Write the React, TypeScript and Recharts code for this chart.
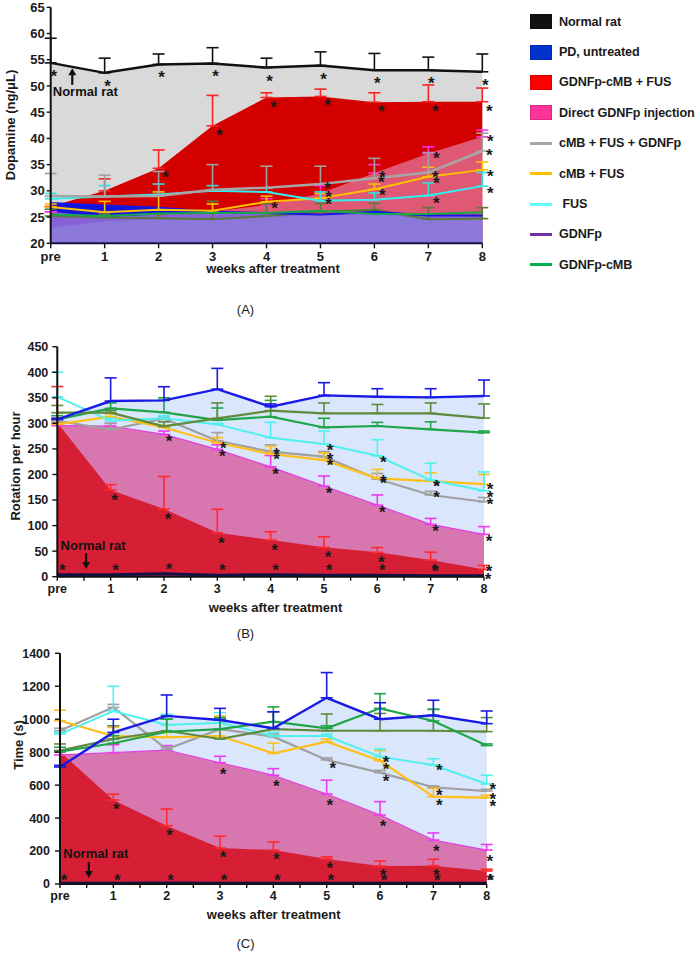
import React from "react";
import {
  Area,
  ComposedChart,
  ErrorBar,
  Line,
  ReferenceLine,
  XAxis,
  YAxis,
} from "recharts";

const WEEKS = ["pre", "1", "2", "3", "4", "5", "6", "7", "8"];
const WEEK_TICKS = [0, 1, 2, 3, 4, 5, 6, 7, 8];
const HALF_WEEK_TICKS = [0, 0.5, 1, 1.5, 2, 2.5, 3, 3.5, 4, 4.5, 5, 5.5, 6, 6.5, 7, 7.5, 8];

// (A) dopamine, ng/μL — means and error-bar tops
const A_Y_TICKS = [20, 25, 30, 35, 40, 45, 50, 55, 60, 65];
const A_NORMAL = [54.4, 52.5, 54.1, 54.3, 53.5, 53.9, 53.0, 53.0, 52.7];
const A_NORMAL_TOP = [59.1, 55.3, 56.1, 57.3, 55.3, 56.5, 56.2, 55.5, 56.1];
const A_RED = [27.0, 30.0, 34.3, 42.4, 47.8, 48.0, 46.9, 47.0, 47.0];
const A_RED_TOP = [27.0, 32.3, 37.8, 48.2, 48.7, 49.4, 48.7, 50.2, 49.6];
const A_PINK = [26.0, 25.0, 25.5, 26.0, 27.3, 29.5, 33.4, 37.1, 40.3];
const A_PINK_TOP = [26.0, 25.0, 25.5, 26.0, 28.5, 31.0, 35.0, 38.4, 41.6];
const A_GREY = [29.0, 28.9, 29.0, 30.2, 30.6, 31.3, 32.4, 33.5, 37.6];
const A_GREY_TOP = [33.3, 33.0, 33.7, 35.0, 34.7, 34.7, 36.2, 37.3, 41.0];
const A_YELLOW = [26.9, 25.9, 26.4, 26.2, 27.9, 28.6, 30.3, 32.7, 34.0];
const A_YELLOW_TOP = [27.5, 28.0, 29.8, 27.5, 29.0, 29.5, 31.3, 34.5, 35.5];
const A_CYAN = [28.5, 28.9, 29.3, 30.0, 29.8, 28.1, 28.3, 29.1, 30.9];
const A_CYAN_TOP = [29.5, 31.0, 31.3, 31.0, 30.5, 29.8, 29.6, 31.5, 33.5];
const A_BLUE = [27.7, 27.2, 26.8, 26.0, 25.8, 25.5, 26.0, 25.3, 25.3];
const A_GREEN = [25.5, 25.2, 25.7, 25.8, 25.8, 26.2, 25.6, 25.6, 25.9];
const A_OLIVE = [25.2, 24.9, 24.8, 24.6, 25.2, 26.0, 26.4, 24.6, 24.7];
const A_OLIVE_TOP = [26.5, 25.5, 25.5, 28.0, 27.5, 27.6, 27.6, 26.8, 26.8];
const A_BAND = [23.0, 24.2, 24.6, 24.6, 25.0, 25.3, 25.5, 24.8, 24.8];

const A_NORMAL_STARS = [1, 1, 1, 1, 1, 1, 1, 1, 1];
const A_RED_STARS = [0, 0, 1, 1, 1, 1, 1, 1, 1];
const A_PINK_STARS = [0, 0, 0, 0, 0, 1, 1, 1, 1];
const A_GREY_STARS = [0, 0, 0, 0, 0, 1, 1, 1, 1];
const A_YELLOW_STARS = [0, 0, 0, 0, 1, 1, 1, 1, 1];
const A_CYAN_STARS = [0, 0, 0, 0, 0, 0, 0, 1, 1];

// (B) rotation per hour
const B_Y_TICKS = [0, 50, 100, 150, 200, 250, 300, 350, 400, 450];
const B_NORMAL = [4, 4, 6, 3, 4, 3, 3, 2, 2];
const B_BLUE = [307.8, 343.7, 345, 367, 332.6, 354.8, 352.2, 350.9, 353.5];
const B_BLUE_TOP = [310, 389, 371.7, 407.6, 338, 379.6, 367.8, 367.8, 384.8];
const B_OLIVE = [320.9, 320.9, 294, 309.8, 324.8, 319.6, 319.6, 319.6, 310.4];
const B_OLIVE_TOP = [335, 325, 303, 340, 353, 340, 337, 340, 338];
const B_GREEN = [307.8, 329.3, 321.5, 306.5, 313, 292, 294.8, 288.3, 281.7];
const B_GREEN_TOP = [315, 340, 350, 330, 345, 310, 302, 303, 285];
const B_CYAN = [352, 305, 310, 298, 272, 259.6, 236.7, 189, 168];
const B_CYAN_TOP = [400, 310, 315, 300, 302, 285, 268, 222, 205];
const B_YELLOW = [298, 313, 292, 262, 240, 228, 192.4, 187, 181];
const B_YELLOW_TOP = [300, 318, 296, 272, 255, 242, 210, 203, 200];
const B_GREY = [305, 288, 309, 266, 244.6, 234.8, 191, 159.8, 146.7];
const B_GREY_TOP = [310, 300, 312, 282, 258, 245, 202, 167, 155];
const B_PINK = [295.4, 294.8, 278.5, 249, 215, 177.4, 140, 102.4, 82.8];
const B_PINK_TOP = [300, 300, 285, 258, 237, 197, 160, 114, 98];
const B_RED = [301, 169.6, 132.4, 86, 71.7, 57.4, 47.6, 32.6, 14.3];
const B_RED_TOP = [372, 180, 196, 132, 88, 78, 57, 48, 22];

const B_NORMAL_STARS = [1, 1, 1, 1, 1, 1, 1, 1, 1];
const B_RED_STARS = [0, 1, 1, 1, 1, 1, 1, 1, 1];
const B_PINK_STARS = [0, 0, 1, 1, 1, 1, 1, 1, 1];
const B_YELLOW_STARS = [0, 0, 0, 1, 1, 1, 1, 1, 1];
const B_GREY_STARS = [0, 0, 0, 0, 1, 1, 1, 1, 1];
const B_CYAN_STARS = [0, 0, 0, 0, 0, 1, 1, 1, 1];

// (C) time, s
const C_Y_TICKS = [0, 200, 400, 600, 800, 1000, 1200, 1400];
const C_NORMAL = [4, 4, 6, 4, 4, 4, 4, 4, 4];
const C_BLUE = [710, 920, 1020, 995, 945, 1130, 1000, 1024, 973];
const C_BLUE_TOP = [720, 1000, 1147, 1066, 1045, 1283, 1100, 1115, 1050];
const C_OLIVE = [809, 880, 930, 880, 940, 930, 930, 930, 925];
const C_OLIVE_TOP = [850, 960, 1000, 1000, 1045, 1032, 1035, 1060, 1010];
const C_GREEN = [803, 854, 924, 940, 985, 945, 1066, 989, 840];
const C_GREEN_TOP = [830, 900, 1000, 1010, 1075, 960, 1155, 1060, 850];
const C_CYAN = [910, 1050, 965, 979, 898, 898, 773, 722, 607];
const C_CYAN_TOP = [920, 1200, 1030, 1040, 920, 910, 820, 760, 660];
const C_YELLOW = [991, 898, 890, 898, 793, 864, 748, 530, 524];
const C_YELLOW_TOP = [1055, 950, 920, 1020, 855, 880, 810, 580, 540];
const C_GREY = [930, 1072, 817, 940, 894, 753, 676, 587, 564];
const C_GREY_TOP = [945, 1090, 830, 1000, 910, 765, 690, 595, 575];
const C_PINK = [783, 797, 813, 736, 660, 546, 419, 267, 206];
const C_PINK_TOP = [800, 845, 840, 775, 700, 630, 500, 310, 240];
const C_RED = [803, 510, 354, 218, 206, 152, 109, 111, 79];
const C_RED_TOP = [810, 545, 455, 290, 255, 165, 140, 150, 90];

const C_NORMAL_STARS = [1, 1, 1, 1, 1, 1, 1, 1, 1];
const C_RED_STARS = [0, 1, 1, 1, 1, 1, 1, 1, 1];
const C_PINK_STARS = [0, 0, 0, 1, 1, 1, 1, 1, 1];
const C_GREY_STARS = [0, 0, 0, 0, 0, 1, 1, 1, 1];
const C_YELLOW_STARS = [0, 0, 0, 0, 0, 0, 1, 1, 1];
const C_CYAN_STARS = [0, 0, 0, 0, 0, 0, 1, 1, 1];

// "Normal rat" arrow annotations: [week, tail value, head value]
const A_NOTE = [0.4, 50.2, 53.4];
const B_NOTE = [0.54, 46, 15];
const C_NOTE = [0.54, 134, 36];

const LEGEND = [
  { name: "Normal rat", color: "#111111", kind: "box" },
  { name: "PD, untreated", color: "#0033cc", kind: "box" },
  { name: "GDNFp-cMB + FUS", color: "#ff0000", kind: "box" },
  { name: "Direct GDNFp injection", color: "#ff3399", kind: "box" },
  { name: "cMB + FUS + GDNFp", color: "#a6a6a6", kind: "line" },
  { name: "cMB + FUS", color: "#ffc000", kind: "line" },
  { name: " FUS", color: "#66ffff", kind: "line" },
  { name: "GDNFp", color: "#7030a0", kind: "line" },
  { name: "GDNFp-cMB", color: "#00b050", kind: "line" },
];

type Src = { key: string; values: number[]; tops?: number[]; stars?: number[] };

function buildRows(series: Src[]) {
  return WEEKS.map((_, i) => {
    const row: Record<string, unknown> = { x: i };
    for (const s of series) {
      row[s.key] = s.values[i];
      if (s.tops) row[s.key + "Err"] = [0, Math.max(0, s.tops[i] - s.values[i])];
      if (s.stars) row[s.key + "Star"] = s.stars[i];
    }
    return row;
  });
}

const rowsA = buildRows([
  { key: "normal", values: A_NORMAL, tops: A_NORMAL_TOP, stars: A_NORMAL_STARS },
  { key: "red", values: A_RED, tops: A_RED_TOP, stars: A_RED_STARS },
  { key: "pink", values: A_PINK, tops: A_PINK_TOP, stars: A_PINK_STARS },
  { key: "grey", values: A_GREY, tops: A_GREY_TOP, stars: A_GREY_STARS },
  { key: "yellow", values: A_YELLOW, tops: A_YELLOW_TOP, stars: A_YELLOW_STARS },
  { key: "cyan", values: A_CYAN, tops: A_CYAN_TOP, stars: A_CYAN_STARS },
  { key: "blue", values: A_BLUE },
  { key: "green", values: A_GREEN },
  { key: "olive", values: A_OLIVE, tops: A_OLIVE_TOP },
  { key: "band", values: A_BAND },
]);

const rowsB = buildRows([
  { key: "normal", values: B_NORMAL, stars: B_NORMAL_STARS },
  { key: "blue", values: B_BLUE, tops: B_BLUE_TOP },
  { key: "olive", values: B_OLIVE, tops: B_OLIVE_TOP },
  { key: "green", values: B_GREEN, tops: B_GREEN_TOP },
  { key: "cyan", values: B_CYAN, tops: B_CYAN_TOP, stars: B_CYAN_STARS },
  { key: "yellow", values: B_YELLOW, tops: B_YELLOW_TOP, stars: B_YELLOW_STARS },
  { key: "grey", values: B_GREY, tops: B_GREY_TOP, stars: B_GREY_STARS },
  { key: "pink", values: B_PINK, tops: B_PINK_TOP, stars: B_PINK_STARS },
  { key: "red", values: B_RED, tops: B_RED_TOP, stars: B_RED_STARS },
]);

const rowsC = buildRows([
  { key: "normal", values: C_NORMAL, stars: C_NORMAL_STARS },
  { key: "blue", values: C_BLUE, tops: C_BLUE_TOP },
  { key: "olive", values: C_OLIVE, tops: C_OLIVE_TOP },
  { key: "green", values: C_GREEN, tops: C_GREEN_TOP },
  { key: "cyan", values: C_CYAN, tops: C_CYAN_TOP, stars: C_CYAN_STARS },
  { key: "yellow", values: C_YELLOW, tops: C_YELLOW_TOP, stars: C_YELLOW_STARS },
  { key: "grey", values: C_GREY, tops: C_GREY_TOP, stars: C_GREY_STARS },
  { key: "pink", values: C_PINK, tops: C_PINK_TOP, stars: C_PINK_STARS },
  { key: "red", values: C_RED, tops: C_RED_TOP, stars: C_RED_STARS },
]);

const FONT = "'Liberation Sans', Arial, Helvetica, sans-serif";

const weekLabel = (v: number) => (Number.isInteger(v) ? WEEKS[v] : "");

// asterisk drawn next to a point when the row flags it
function starDot(key: string, dx: number, dy: number) {
  return (p: any) => {
    const k = `${key}-star-${p.index}`;
    if (!p.payload || !p.payload[key + "Star"] || p.cx == null) return <g key={k} />;
    return (
      <text
        key={k}
        x={p.cx + dx}
        y={p.cy + dy + 10}
        textAnchor="middle"
        fontSize={17}
        fontWeight={700}
        fill="#1a1a1a"
        fontFamily={FONT}
      >
        *
      </text>
    );
  };
}

function areaEl(key: string, fill: string, opacity: number, stroke = "none") {
  return (
    <Area
      key={"area-" + key}
      type="linear"
      dataKey={key}
      fill={fill}
      fillOpacity={opacity}
      stroke={stroke}
      strokeWidth={1.2}
      baseValue="dataMin"
      dot={false}
      activeDot={false}
      isAnimationActive={false}
    />
  );
}

function lineEl(
  key: string,
  color: string,
  width: number,
  err?: string,
  star?: [number, number],
) {
  return (
    <Line
      key={"line-" + key}
      type="linear"
      dataKey={key}
      stroke={color}
      strokeWidth={width}
      dot={star ? starDot(key, star[0], star[1]) : false}
      activeDot={false}
      isAnimationActive={false}
    >
      {err ? (
        <ErrorBar dataKey={key + "Err"} direction="y" width={6} stroke={err} strokeWidth={1.6} />
      ) : null}
    </Line>
  );
}

function arrowNote(dx: number, gap: number) {
  return (p: any) => {
    const { x1, y1, x2, y2 } = p;
    const dir = y2 < y1 ? -1 : 1;
    return (
      <g>
        <line x1={x1} y1={y1} x2={x2} y2={y2 - dir * 6} stroke="#111" strokeWidth={2.2} />
        <polygon
          points={`${x2},${y2} ${x2 - 4},${y2 - dir * 7} ${x2 + 4},${y2 - dir * 7}`}
          fill="#111"
        />
        <text
          x={x1 + dx}
          y={y1 - dir * gap}
          textAnchor="middle"
          dominantBaseline="central"
          fontSize={13}
          fontWeight={700}
          fill="#111"
          fontFamily={FONT}
        >
          Normal rat
        </text>
      </g>
    );
  };
}

function Txt({
  x,
  y,
  children,
  rotate = false,
  bold = true,
  size = 13,
}: {
  x: number;
  y: number;
  children: React.ReactNode;
  rotate?: boolean;
  bold?: boolean;
  size?: number;
}) {
  return (
    <div
      style={{
        position: "absolute",
        left: x,
        top: y,
        transform: `translate(-50%, -50%)${rotate ? " rotate(-90deg)" : ""}`,
        whiteSpace: "pre",
        lineHeight: 1,
        fontSize: size,
        fontWeight: bold ? 700 : 400,
        color: "#1a1a1a",
      }}
    >
      {children}
    </div>
  );
}

const axisLine = { stroke: "#111", strokeWidth: 2 };
const tickLine = { stroke: "#111", strokeWidth: 1.4 };

export default function App() {
  return (
    <div
      style={{
        position: "absolute",
        left: 0,
        top: 0,
        width: 700,
        height: 962,
        background: "#fff",
        fontFamily: FONT,
        overflow: "hidden",
      }}
    >
      {/* (A) Dopamine */}
      <div style={{ position: "absolute", left: 0, top: 0 }}>
        <ComposedChart
          width={500}
          height={275}
          data={rowsA}
          margin={{ top: 7.3, right: 17.7, bottom: 0, left: 0 }}
        >
          <XAxis
            type="number"
            dataKey="x"
            domain={[0, 8]}
            ticks={WEEK_TICKS}
            interval={0}
            tickFormatter={weekLabel}
            height={31.7}
            axisLine={{ stroke: "#14144a", strokeWidth: 2 }}
            tickLine={tickLine}
            tickSize={5}
            tickMargin={3}
            tick={{ fill: "#1a1a1a", fontSize: 13, fontWeight: 700 }}
          />
          <YAxis
            type="number"
            domain={[20, 65]}
            ticks={A_Y_TICKS}
            interval={0}
            width={50.7}
            axisLine={axisLine}
            tickLine={tickLine}
            tickSize={4}
            tickMargin={2}
            tick={{ fill: "#1a1a1a", fontSize: 13, fontWeight: 700 }}
          />
          {areaEl("normal", "#d9d9d9", 1)}
          {areaEl("red", "#d40000", 1)}
          {areaEl("blue", "#1414e0", 1)}
          {areaEl("pink", "#e8a0d4", 0.55)}
          {areaEl("band", "#8b78d8", 1)}
          {lineEl("pink", "none", 0, "#ff33dd", [8, 0])}
          {lineEl("red", "none", 0, "#ff2020", [7, 5])}
          {lineEl("olive", "#5a7a3a", 2, "#5a7a3a")}
          {lineEl("blue", "#1515e5", 2)}
          {lineEl("green", "#17a84a", 2)}
          {lineEl("yellow", "#ffc000", 2, "#ffc000", [8, 2])}
          {lineEl("cyan", "#33f0f0", 2, "#33e0e0", [8, 3])}
          {lineEl("grey", "#a6a6a6", 2.5, "#a0a0a0", [7, 0])}
          {lineEl("normal", "#111111", 2.5, "#111111", [3, 9])}
          <ReferenceLine
            segment={[
              { x: A_NOTE[0], y: A_NOTE[1] },
              { x: A_NOTE[0], y: A_NOTE[2] },
            ]}
            ifOverflow="visible"
            shape={arrowNote(13, 7)}
          />
        </ComposedChart>
      </div>
      <Txt x={10} y={125} rotate>
        Dopamine (ng/μL)
      </Txt>
      <Txt x={273} y={268}>
        weeks after treatment
      </Txt>
      <Txt x={245.5} y={309} bold={false}>
        (A)
      </Txt>

      {/* (B) Rotation */}
      <div style={{ position: "absolute", left: 0, top: 330 }}>
        <ComposedChart
          width={500}
          height={285}
          data={rowsB}
          margin={{ top: 16.7, right: 16, bottom: 0, left: 0 }}
        >
          <XAxis
            type="number"
            dataKey="x"
            domain={[0, 8]}
            ticks={HALF_WEEK_TICKS}
            interval={0}
            tickFormatter={weekLabel}
            height={38.3}
            axisLine={axisLine}
            tickLine={tickLine}
            tickSize={4}
            tickMargin={3}
            tick={{ fill: "#1a1a1a", fontSize: 12.5, fontWeight: 700 }}
          />
          <YAxis
            type="number"
            domain={[0, 450]}
            ticks={B_Y_TICKS}
            interval={0}
            width={57.3}
            axisLine={axisLine}
            tickLine={tickLine}
            tickSize={5}
            tickMargin={4}
            tick={{ fill: "#1a1a1a", fontSize: 12.5, fontWeight: 700 }}
          />
          {areaEl("blue", "#d9e6fb", 1)}
          {areaEl("pink", "#d876b0", 1, "#e23fe0")}
          {areaEl("red", "#d61f35", 1)}
          {lineEl("red", "none", 0, "#ff2a2a", [4, 6])}
          {lineEl("pink", "none", 0, "#ee3bee", [5, 3])}
          {lineEl("grey", "#a0a0a0", 2.2, "#a0a0a0", [6, -2])}
          {lineEl("yellow", "#ffbf1a", 2.2, "#ffbf1a", [6, 1])}
          {lineEl("cyan", "#4ff0ee", 2, "#4ff0ee", [6, 2])}
          {lineEl("green", "#1fa548", 2.2, "#1fa548")}
          {lineEl("olive", "#5e8a3c", 2.2, "#5e8a3c")}
          {lineEl("blue", "#1a1ae6", 2.4, "#1a1ae6")}
          {lineEl("normal", "#12124a", 3, undefined, [5, -9])}
          <ReferenceLine
            segment={[
              { x: B_NOTE[0], y: B_NOTE[1] },
              { x: B_NOTE[0], y: B_NOTE[2] },
            ]}
            ifOverflow="visible"
            shape={arrowNote(7, 8)}
          />
        </ComposedChart>
      </div>
      <Txt x={15} y={466} rotate>
        Rotation per hour
      </Txt>
      <Txt x={275.5} y={606.7}>
        weeks after treatment
      </Txt>
      <Txt x={245.5} y={633} bold={false}>
        (B)
      </Txt>

      {/* (C) Time */}
      <div style={{ position: "absolute", left: 0, top: 640 }}>
        <ComposedChart
          width={500}
          height={282}
          data={rowsC}
          margin={{ top: 13.3, right: 13.3, bottom: 0, left: 0 }}
        >
          <XAxis
            type="number"
            dataKey="x"
            domain={[0, 8]}
            ticks={HALF_WEEK_TICKS}
            interval={0}
            tickFormatter={weekLabel}
            height={38}
            axisLine={axisLine}
            tickLine={tickLine}
            tickSize={4}
            tickMargin={3}
            tick={{ fill: "#1a1a1a", fontSize: 12.5, fontWeight: 700 }}
          />
          <YAxis
            type="number"
            domain={[0, 1400]}
            ticks={C_Y_TICKS}
            interval={0}
            width={60}
            axisLine={axisLine}
            tickLine={tickLine}
            tickSize={5}
            tickMargin={5}
            tick={{ fill: "#1a1a1a", fontSize: 12.5, fontWeight: 700 }}
          />
          {areaEl("blue", "#d9e6fb", 1)}
          {areaEl("pink", "#d876b0", 1, "#e23fe0")}
          {areaEl("red", "#d61f35", 1)}
          {lineEl("red", "none", 0, "#ff2a2a", [3, 5])}
          {lineEl("pink", "none", 0, "#ee3bee", [3, 7])}
          {lineEl("grey", "#a0a0a0", 2.2, "#a0a0a0", [6, 4])}
          {lineEl("yellow", "#ffbf1a", 2.2, "#ffbf1a", [6, 4])}
          {lineEl("cyan", "#4ff0ee", 2, "#4ff0ee", [6, 1])}
          {lineEl("olive", "#5e8a3c", 2.2, "#5e8a3c")}
          {lineEl("green", "#1fa548", 2.2, "#1fa548")}
          {lineEl("blue", "#1a1ae6", 2.4, "#1a1ae6")}
          {lineEl("normal", "#12124a", 3, undefined, [4, -7])}
          <ReferenceLine
            segment={[
              { x: C_NOTE[0], y: C_NOTE[1] },
              { x: C_NOTE[0], y: C_NOTE[2] },
            ]}
            ifOverflow="visible"
            shape={arrowNote(7, 8)}
          />
        </ComposedChart>
      </div>
      <Txt x={18} y={745} rotate>
        Time (s)
      </Txt>
      <Txt x={273.7} y={914.3}>
        weeks after treatment
      </Txt>
      <Txt x={245.5} y={943} bold={false}>
        (C)
      </Txt>

      {/* legend */}
      <div style={{ position: "absolute", left: 530, top: 6.5 }}>
        {LEGEND.map((it) => (
          <div
            key={it.name}
            style={{ display: "flex", alignItems: "center", height: 30.4 }}
          >
            <div
              style={{
                width: 22,
                height: it.kind === "box" ? 15 : 3,
                background: it.color,
                border: it.kind === "box" ? "1px solid rgba(0,0,0,0.15)" : "none",
                boxSizing: "border-box",
                marginRight: 7,
                flexShrink: 0,
              }}
            />
            <span
              style={{
                fontSize: 12.6,
                fontWeight: 700,
                letterSpacing: -0.1,
                color: "#1a1a1a",
                whiteSpace: "pre",
              }}
            >
              {it.name}
            </span>
          </div>
        ))}
      </div>
    </div>
  );
}
